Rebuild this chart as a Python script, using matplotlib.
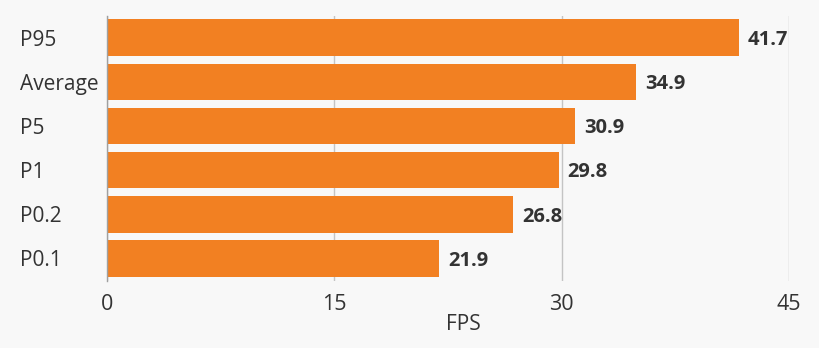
import matplotlib
matplotlib.use("Agg")
import matplotlib.pyplot as plt

categories = ['P95', 'Average', 'P5', 'P1', 'P0.2', 'P0.1']
fps_values = [41.7, 34.9, 30.9, 29.8, 26.8, 21.9]
x_ticks = [0, 15, 30, 45]

_BG = '#f8f8f8'
_BAR = '#f28022'
_TEXT = '#333333'
_GRID = '#c4c4c4'

plt.rcParams['font.family'] = ['Open Sans', 'DejaVu Sans']

_TOP, _BOTTOM = 15.7, 280.5
fig = plt.figure(figsize=(8.2, 3.48), dpi=100, facecolor=_BG)
ax = fig.add_axes([107 / 820., 1 - _BOTTOM / 348., (789 - 107) / 820.,
                   (_BOTTOM - _TOP) / 348.])
ax.set_facecolor(_BG)

pos = list(range(len(categories)))
ax.barh(pos, fps_values, height=0.83, color=_BAR, zorder=2)
for p, v in zip(pos, fps_values):
  ax.text(v + 0.6, p + 0.05, '%.1f' % v, va='center', ha='left', fontsize=14.5,
          fontweight='bold', color=_TEXT, zorder=3)

ax.set_ylim(len(categories) - 0.5, -0.5)
ax.set_xlim(0, 45)
ax.set_yticks(pos)
ax.set_yticklabels(categories, ha='left')
ax.set_xticks(x_ticks)
ax.grid(axis='x', color=_GRID, linewidth=1, zorder=1)
ax.set_axisbelow(True)

for side in ['top', 'right', 'bottom']:
  ax.spines[side].set_visible(False)
ax.spines['left'].set_color('#a0a0a0')
ax.spines['left'].set_linewidth(1)

# left-aligned category labels starting ~87px left of the axis
ax.tick_params(axis='y', length=0, pad=87 * 0.72, labelsize=15,
               labelcolor=_TEXT)
ax.tick_params(axis='x', length=0, pad=10, labelsize=15.5,
               labelcolor=_TEXT)

ax.set_xlabel('FPS', fontsize=15, color=_TEXT, va='center')
ax.xaxis.set_label_coords((463 - 107) / 682.,
                          (_BOTTOM - 325) / (_BOTTOM - _TOP))

fig.savefig('out.png', dpi=100, facecolor=_BG)
